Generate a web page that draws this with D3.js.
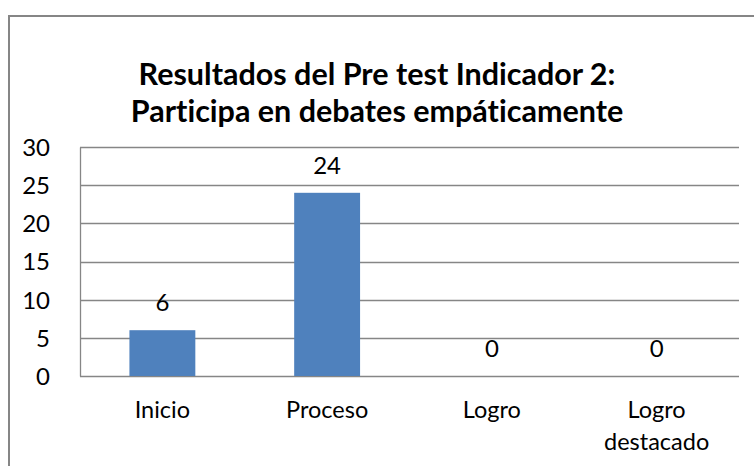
<!DOCTYPE html>
<html>
<head>
<meta charset="utf-8">
<script src="https://cdn.jsdelivr.net/npm/d3@7"></script>
<style>
  body { margin: 0; background: #fff; }
  text { font-family: Lato, "Open Sans", sans-serif; fill: #000; font-variant-ligatures: none; font-feature-settings: "liga" 0; }
</style>
</head>
<body>
<svg id="chart"></svg>
<script>
// datos del gráfico
var categorias = ["Inicio", "Proceso", "Logro", "Logro destacado"];
var valores = [6, 24, 0, 0];
var ticksY = [0, 5, 10, 15, 20, 25, 30];
var titulo = ["Resultados del Pre test Indicador 2:", "Participa en debates empáticamente"];

var width = 754, height = 466;
var marginTop = 147, marginLeft = 80, plotRight = 739, plotBottom = 376;

var svg = d3.select("#chart").attr("width", width).attr("height", height);

// borde exterior del gráfico
svg.append("rect")
  .attr("x", 9)
  .attr("y", 16)
  .attr("width", 800)
  .attr("height", 500)
  .attr("fill", "#fff")
  .attr("stroke", "#868686")
  .attr("stroke-width", 2);

// titulo
svg.append("g")
  .selectAll("text")
  .data(titulo)
  .enter()
  .append("text")
  .attr("x", 377)
  .attr("y", (d, i) => 85 + i * 37)
  .attr("text-anchor", "middle")
  .style("font-size", "30.5px")
  .style("font-weight", "bold")
  .text((d) => d);

// escalas
var x = d3.scaleBand()
  .domain(categorias)
  .range([marginLeft, plotRight])
  .padding(0);
var y = d3.scaleLinear()
  .domain([0, 30])
  .range([plotBottom, marginTop]);

// lineas de la cuadricula
svg.append("g")
  .selectAll("line")
  .data(ticksY)
  .enter()
  .append("line")
  .attr("x1", marginLeft)
  .attr("x2", plotRight)
  .attr("y1", (d) => Math.round(y(d)) + 0.5)
  .attr("y2", (d) => Math.round(y(d)) + 0.5)
  .attr("stroke", "#868686")
  .attr("stroke-width", 1.3);

// eje y
var yAxis = d3.axisLeft(y).tickValues(ticksY).tickSize(0).tickPadding(30);
svg.append("g")
  .attr("transform", `translate(${marginLeft},0)`)
  .call(yAxis)
  .call((g) => g.select(".domain").attr("stroke", "#868686").attr("stroke-width", 1.3))
  .call((g) => g.selectAll("text").style("font-size", "24px").attr("dy", "0.35em"));

// barras
var anchoBarra = x.bandwidth() * 0.4;
svg.append("g")
  .selectAll("rect")
  .data(valores)
  .enter()
  .append("rect")
  .attr("x", (d, i) => x(categorias[i]) + (x.bandwidth() - anchoBarra) / 2)
  .attr("y", (d) => y(d))
  .attr("width", anchoBarra)
  .attr("height", (d) => y(0) - y(d))
  .attr("fill", "#4F81BD");

// etiquetas de valores
svg.append("g")
  .selectAll("text")
  .data(valores)
  .enter()
  .append("text")
  .attr("x", (d, i) => x(categorias[i]) + x.bandwidth() / 2)
  .attr("y", (d) => y(d) - 19)
  .attr("text-anchor", "middle")
  .style("font-size", "24px")
  .text((d) => d);

// etiquetas de categorias (con salto de linea)
var cat = svg.append("g")
  .selectAll("text")
  .data(categorias)
  .enter()
  .append("text")
  .attr("text-anchor", "middle")
  .style("font-size", "23.5px");
cat.each(function (d) {
  var palabras = d === "Logro destacado" ? ["Logro", "destacado"] : [d];
  var t = d3.select(this);
  palabras.forEach(function (p, j) {
    t.append("tspan")
      .attr("x", x(d) + x.bandwidth() / 2)
      .attr("y", 418 + j * 32)
      .text(p);
  });
});
</script>
</body>
</html>
